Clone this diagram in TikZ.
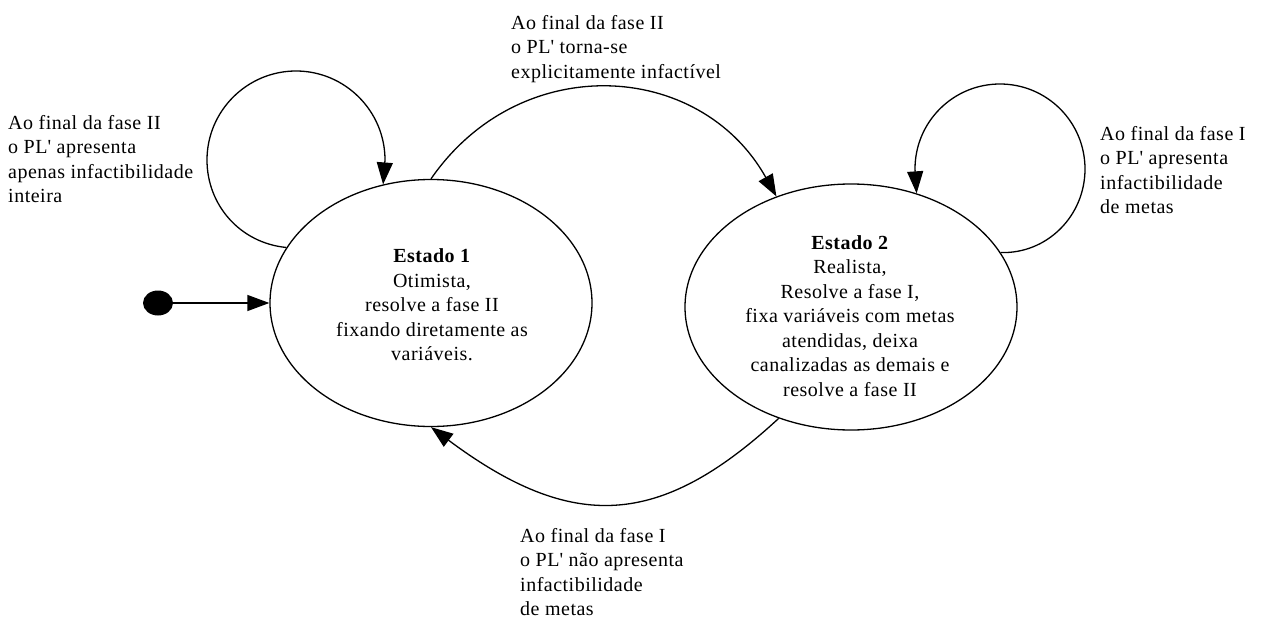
\documentclass[tikz,border=0pt]{standalone}
\usepackage{fontspec}
\setmainfont{Liberation Serif}[LetterSpace=2.5]
\usetikzlibrary{arrows.meta,shapes.geometric}
\begin{document}
\begin{tikzpicture}[x=1pt,y=-1pt,
  every node/.style={font=\fontsize{20}{24.5}\selectfont},
  state/.style={draw,ellipse,line width=1.3pt,inner sep=0pt},
  lbl/.style={anchor=north west,align=left,inner sep=0pt},
  stxt/.style={align=center,inner sep=0pt},
  edge/.style={line width=1.3pt,-{Triangle[length=22pt,width=16pt]}},
  initdot/.style={ellipse,fill=black,minimum width=30pt,minimum height=25pt,inner sep=0pt}]
\useasboundingbox (0,0) rectangle (1262,618);

% states
\node[state,minimum width=322pt,minimum height=247pt] (e1) at (431,303) {};
\node[state,minimum width=332pt,minimum height=246pt] (e2) at (851,307) {};
\node[stxt] (t1) at (432,305) {\textbf{Estado 1}\\Otimista,\\resolve a fase II\\fixando diretamente as\\variáveis.};
\node[stxt] (t2) at (850,316) {\textbf{Estado 2}\\Realista,\\Resolve a fase I,\\fixa variáveis com metas\\atendidas, deixa\\canalizadas as demais e\\resolve a fase II};

% initial
\node[initdot] (start) at (158,303) {};
\draw[edge] (start) -- (e1.west);

% self loop state 1
\draw[edge] (e1.159) .. controls (240,243) and (207,205) .. (207,160)
  .. controls (207,111) and (247,71) .. (296,71)
  .. controls (345,71) and (385,111) .. (385,160) -- (e1.112);
\node[lbl] (l1) at (8,115) {Ao final da fase II\\o PL\textquotesingle{} apresenta\\apenas infactibilidade\\inteira};

% self loop state 2
\draw[edge] (e2.20) .. controls (1047,254) and (1085,216) .. (1085,169)
  .. controls (1085,122) and (1047,84) .. (1000,84)
  .. controls (953,84) and (915,122) .. (915,169) -- (e2.60);
\node[lbl] (l2) at (1100,126) {Ao final da fase I\\o PL\textquotesingle{} apresenta\\infactibilidade\\de metas};

% 1 -> 2
\draw[edge] (e1.90) .. controls (520,50) and (700,60) .. (e2.124);
\node[lbl] (l3) at (511,15) {Ao final da fase II\\o PL\textquotesingle{} torna-se\\explicitamente infactível};

% 2 -> 1
\draw[edge] (e2.237) .. controls (660,528) and (573,533) .. (e1.270);
\node[lbl] (l4) at (520,528) {Ao final da fase I\\o PL\textquotesingle{} não apresenta\\infactibilidade\\de metas};
\end{tikzpicture}
\end{document}
